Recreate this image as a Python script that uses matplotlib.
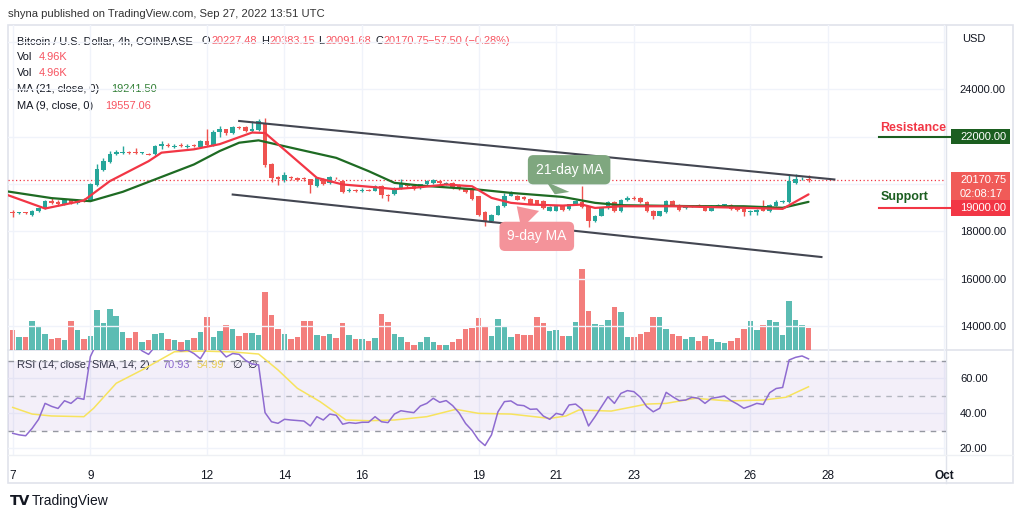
import numpy as np
import matplotlib
matplotlib.use('Agg')
import matplotlib.pyplot as plt
import matplotlib.transforms as mtransforms
from matplotlib.patches import Rectangle

plt.rcParams['font.family'] = ['Liberation Sans', 'DejaVu Sans']

# -- BTC/USD 4h candles, Sep 7 00:00 -> Sep 27 12:00 --
opens = [18820, 18760, 18790, 18700, 18840, 18985, 19270, 19245, 19130, 19310,
         19200, 19330, 19300, 19950, 20580, 20920, 21246, 21310, 21345, 21310,
         21290, 21260, 21246, 21600, 21660, 21560, 21660, 21560, 21600, 21555,
         21810, 21640, 22200, 22305, 22135, 22420, 22420, 22220, 22275, 22560,
         20850, 20310, 20145, 20290, 20260, 20230, 20190, 19905, 20190, 20020,
         20270, 20115, 19690, 19760, 19700, 19760, 19720, 19900, 19550, 19580,
         19805, 19960, 19900, 19830, 19975, 20045, 20115, 20000, 20045, 19950,
         19790, 19735, 19480, 18800, 18420, 18704, 19055, 19510, 19500, 19440,
         19370, 19300, 19270, 18870, 18870, 19050, 18930, 19140, 19230, 19055,
         18420, 18660, 18985, 19230, 18840, 19310, 19410, 19410, 19230, 18870,
         18660, 18800, 19270, 19127, 18990, 19050, 19127, 19085, 18870, 19060,
         19110, 19110, 19030, 18945, 18800, 18830, 19060, 18840, 19085, 19230,
         19230, 20045, 20187, 20227.48]
closes = [18780, 18790, 18760, 18840, 18985, 19270, 19200, 19130, 19340, 19200,
          19340, 19260, 19975, 20610, 20960, 21275, 21345, 21360, 21310, 21300,
          21300, 21240, 21600, 21670, 21580, 21620, 21600, 21620, 21590, 21810,
          21660, 22200, 22305, 22135, 22420, 22380, 22220, 22300, 22660, 20780,
          20260, 20190, 20355, 20230, 20180, 20190, 19945, 20230, 19990, 20290,
          20230, 19665, 19760, 19700, 19760, 19720, 19900, 19550, 19480, 19805,
          19975, 19900, 19800, 19975, 20115, 20160, 20020, 20040, 19835, 19790,
          19650, 19370, 18704, 18420, 18704, 19055, 19480, 19620, 19340, 19380,
          19170, 19170, 18985, 19010, 19050, 18890, 19140, 19270, 19010, 18420,
          18660, 18985, 19230, 18840, 19340, 19410, 19360, 19230, 18840, 18660,
          18840, 19270, 19085, 18900, 19060, 19070, 19060, 18870, 19060, 19127,
          19120, 18920, 18900, 18800, 18870, 18900, 18870, 19127, 19230, 19290,
          20115, 20187, 20227, 20170.75]
highs = [18900, 18830, 18830, 18880, 19030, 19300, 19420, 19300, 19380, 19360,
         19380, 19420, 20050, 20820, 21080, 21400, 21420, 21620, 21390, 21520,
         21340, 21290, 21640, 21810, 21720, 21680, 21720, 21680, 21700, 21870,
         22300, 22260, 22450, 22340, 22460, 22460, 22450, 22660, 22740, 22800,
         20900, 20350, 20500, 20340, 20310, 20300, 20220, 20290, 20230, 20340,
         20300, 20150, 19810, 19800, 19810, 19790, 19950, 19940, 19580, 19850,
         20190, 20000, 19960, 20010, 20160, 20200, 20150, 20080, 20080, 19980,
         19820, 19760, 19500, 18850, 18740, 19090, 19620, 19700, 19530, 19480,
         19400, 19330, 19300, 19050, 19080, 19090, 19170, 19340, 19930, 19080,
         18700, 19010, 19280, 19270, 19380, 19480, 19470, 19460, 19260, 18900,
         18870, 19300, 19300, 19150, 19090, 19110, 19160, 19110, 19090, 19160,
         19170, 19130, 19060, 18970, 18900, 18930, 19340, 19160, 19340, 19330,
         20400, 20400, 20300, 20383.15]
lows = [18600, 18720, 18720, 18660, 18800, 18960, 19150, 19080, 19100, 19150,
        19160, 19220, 19260, 19900, 20560, 20880, 21200, 21280, 21260, 21260,
        21250, 21200, 21220, 21460, 21550, 21520, 21560, 21520, 21550, 21530,
        21620, 21600, 21980, 22080, 22100, 22340, 22180, 22180, 22240, 20700,
        20100, 19940, 20100, 20180, 20130, 20140, 19620, 19860, 19950, 19990,
        20190, 19620, 19650, 19660, 19670, 19690, 19690, 19420, 19270, 19540,
        19780, 19860, 19760, 19800, 19950, 20010, 19990, 19970, 19800, 19760,
        19620, 19340, 18640, 18240, 18390, 18680, 19030, 19480, 19300, 19340,
        19140, 19140, 18950, 18840, 18840, 18860, 18900, 19110, 18980, 18195,
        18400, 18640, 18960, 18800, 18810, 19280, 19330, 19200, 18810, 18500,
        18630, 18770, 19050, 18870, 18960, 19020, 19030, 18840, 18840, 19030,
        19080, 18890, 18860, 18630, 18690, 18700, 18840, 18810, 19060, 19200,
        19200, 20000, 20150, 20091.68]
# volume, thousands of BTC
volumes = [4.57, 3.04, 2.90, 6.63, 5.26, 3.73, 2.45, 2.67, 2.22, 6.63,
           4.57, 2.45, 3.27, 9.08, 6.17, 9.30, 7.70, 4.18, 2.67, 4.18,
           1.76, 2.22, 3.73, 3.95, 2.45, 2.22, 1.76, 2.22, 2.67, 4.18,
           7.48, 3.04, 4.41, 5.72, 4.87, 3.27, 3.95, 3.95, 3.50, 13.19,
           7.93, 4.87, 3.73, 2.45, 2.90, 6.63, 6.63, 3.50, 3.27, 3.73,
           2.67, 6.17, 3.50, 2.45, 2.45, 1.99, 2.67, 8.16, 6.40, 3.73,
           2.90, 1.76, 1.14, 1.83, 2.97, 1.83, 1.14, 1.14, 1.83, 2.51,
           4.80, 5.03, 7.32, 5.49, 3.20, 7.09, 5.26, 2.97, 3.66, 3.43,
           3.43, 7.54, 6.17, 4.34, 4.57, 3.20, 3.20, 6.40, 18.52, 8.92,
           5.94, 5.72, 6.86, 9.83, 8.69, 2.97, 2.97, 3.66, 4.11, 7.54,
           7.54, 4.80, 3.66, 3.20, 2.51, 2.97, 2.06, 3.20, 2.51, 1.83,
           1.60, 2.06, 2.74, 4.80, 6.63, 4.57, 5.72, 6.86, 6.40, 3.43,
           11.20, 6.86, 5.72, 4.96]

# -- moving averages (sampled along the drawn lines) --
ma21_x = [-1, 6, 12, 17, 22, 28, 32, 35, 38, 43, 50, 55, 59, 63, 72, 77, 85, 90, 94, 98, 105, 113, 119, 123]
ma21 = [19690, 19400, 19270, 19665, 20190, 20820, 21390, 21740, 21840, 21530, 21100, 20540,
        20045, 19930, 19760, 19620, 19450, 19200, 19100, 19085, 19060, 19055, 18990, 19241.50]
ma9_x = [-1, 5, 11, 15, 21, 23, 28, 32, 37, 39, 47, 51, 56, 59, 63, 67, 71, 74, 77, 80,
         85, 88, 90, 94, 98, 103, 108, 113, 119, 123]
ma9 = [19550, 18960, 19300, 20115, 20960, 21320, 21460, 21680, 22170, 22150, 20260, 19975,
       19860, 19780, 19860, 19975, 19900, 19410, 19200, 19127, 19085, 19127, 18985, 19055,
       19055, 19055, 19020, 18990, 18945, 19557.06]

# -- RSI(14) per candle and its SMA --
rsi = [28.4, 27.5, 27.0, 31.2, 36.4, 45.5, 43.8, 42.6, 47.0, 45.5,
       48.6, 47.8, 72.2, 80.0, 84.0, 86.0, 84.0, 82.0, 80.0, 79.0,
       75.5, 73.5, 78.0, 79.0, 76.0, 76.5, 75.5, 76.0, 74.0, 71.0,
       77.0, 78.0, 76.0, 72.0, 74.0, 73.5, 70.0, 68.0, 67.5, 40.2,
       35.0, 34.1, 36.4, 36.0, 35.7, 35.4, 32.6, 37.9, 36.0, 39.4,
       38.7, 33.6, 34.5, 34.1, 34.7, 34.7, 37.9, 35.0, 34.5, 39.4,
       41.3, 40.7, 40.2, 44.0, 45.5, 48.4, 46.1, 47.1, 44.2, 40.0,
       34.0, 30.0, 24.6, 21.4, 27.5, 40.7, 46.5, 46.9, 44.6, 44.2,
       42.1, 42.3, 38.3, 36.4, 39.8, 38.9, 44.6, 45.1, 42.1, 32.6,
       37.9, 43.6, 49.3, 45.5, 51.2, 52.8, 52.2, 49.0, 43.6, 40.7,
       42.7, 51.8, 49.3, 47.1, 47.4, 49.0, 48.4, 45.5, 48.4, 49.0,
       49.7, 47.1, 45.1, 42.7, 44.0, 45.5, 44.9, 51.6, 54.0, 54.6,
       70.3, 71.8, 72.6, 70.93]
rsi_ma_x = [0, 3, 6, 11, 12.5, 16, 20, 25, 29, 34, 38, 41, 44, 47.5, 51.5, 55, 59, 64,
            68.5, 72, 77, 83, 85.5, 87.5, 92.5, 98, 101, 105.5, 110.5, 116, 119.5, 123]
rsi_ma = [43.2, 39.4, 38.3, 37.9, 42.7, 57.0, 64.6, 75.0, 75.4, 74.9, 73.7, 64.6, 54.1,
          46.5, 36.0, 35.6, 36.0, 37.9, 42.1, 39.8, 39.4, 36.9, 38.3, 41.7, 41.1, 45.1,
          45.5, 48.4, 46.9, 47.4, 49.0, 54.99]

# -- drawn channel --
upper_x = [35, 127]
upper_y = [22657, 20187]
lower_x = [34, 125]
lower_y = [19551, 16911]

day_ticks = [0, 12, 30, 42, 54, 72, 84, 96, 114, 126, 144]
day_labels = ['7', '9', '12', '14', '16', '19', '21', '23', '26', '28', 'Oct']

UP = '#26a69a'
DOWN = '#ef5350'
TXT = '#131722'
GRID = '#f0f3fa'

W, H = 1024, 518
fig = plt.figure(figsize=(W / 100, H / 100), dpi=100)
fig.patch.set_facecolor('white')

def fpos(x0, y0, x1, y1):
    return [x0 / W, 1 - y1 / H, (x1 - x0) / W, (y1 - y0) / H]

# background / frame in pixel coords
bg = fig.add_axes([0, 0, 1, 1], zorder=-10)
bg.set_xlim(0, W)
bg.set_ylim(H, 0)
bg.axis('off')
bg.add_patch(Rectangle((8, 25), 1005, 458, fill=False, ec='#e0e3eb', lw=1.2))
bg.plot([946, 946], [25, 483], color='#e0e3eb', lw=1)
bg.plot([8, 1013], [350, 350], color='#e0e3eb', lw=1.2)
bg.plot([8, 1013], [455, 455], color='#eef0f4', lw=1)

x = np.arange(len(closes))
xlim = (-0.73, 144.25)

ax = fig.add_axes(fpos(8, 25, 946, 350), zorder=2)
ax_vol = ax.twinx()
ax_vol.set_zorder(1)
ax.patch.set_visible(False)
ax_vol.patch.set_visible(False)

# volume
colors = [UP if c >= o else DOWN for o, c in zip(opens, closes)]
ax_vol.bar(x, volumes, width=0.85, color=colors, alpha=0.75, lw=0)
ax_vol.set_ylim(0, 74.3)
ax_vol.set_yticks([])
for s in ax_vol.spines.values():
    s.set_visible(False)

# grid
for t in day_ticks:
    ax.axvline(t, color=GRID, lw=1, zorder=0)
for p in range(14000, 27000, 2000):
    ax.axhline(p, color=GRID, lw=1, zorder=0)

# candles
o = np.array(opens); c = np.array(closes)
ax.vlines(x, lows, highs, colors=colors, lw=1, zorder=3)
body_lo = np.minimum(o, c)
body_h = np.maximum(np.abs(c - o), 40)
ax.bar(x, body_h, bottom=body_lo, width=0.7, color=colors, lw=0, zorder=4)

# moving averages
ax.plot(ma21_x, ma21, color='#1e6b23', lw=1.6, zorder=5, solid_capstyle='round')
ax.plot(ma9_x, ma9, color='#f23645', lw=1.6, zorder=6, solid_capstyle='round')

# channel
ax.plot(upper_x, upper_y, color='#434651', lw=1.5, zorder=7)
ax.plot(lower_x, lower_y, color='#434651', lw=1.5, zorder=7)

# last price line
ax.axhline(closes[-1], color='#f23645', lw=0.9, ls=(0, (1, 2)), zorder=2)

ax.set_xlim(*xlim)
ax.set_ylim(12984, 26712)
ax.yaxis.tick_right()
ax.set_yticks(range(14000, 27000, 2000))
ax.set_yticklabels(['14000.00', '16000.00', '18000.00', '', '', '24000.00', ''])
ax.tick_params(axis='y', length=0, pad=10, labelsize=8, labelcolor=TXT)
ax.tick_params(axis='x', length=0, labelbottom=False)
for s in ax.spines.values():
    s.set_visible(False)

# support / resistance
ax.plot([133.9, 144.9], [22000, 22000], color='#1b5e20', lw=1.5, clip_on=False, zorder=8)
ax.plot([133.9, 144.9], [19000, 19000], color='#f23645', lw=1.5, clip_on=False, zorder=8)
ax.text(134.1, 22000 + 380, 'Resistance', color='#f23645', fontsize=9, fontweight='bold',
        va='center', ha='left', zorder=8)
ax.text(134.1, 19000 + 430, 'Support', color='#1b5e20', fontsize=9, fontweight='bold',
        va='center', ha='left', zorder=8)

# price scale tags
blend = mtransforms.blended_transform_factory(ax.transAxes, ax.transData)
bx0 = (951 - 8) / 938
bw = 59 / 938
ppx = 42.37
ax.add_patch(Rectangle((bx0, 22000 - 7.5 * ppx), bw, 15 * ppx, transform=blend,
                       fc='#1b5e20', ec='none', clip_on=False, zorder=9))
ax.add_patch(Rectangle((bx0, 19225), bw, 30 * ppx, transform=blend,
                       fc='#f05b58', ec='none', clip_on=False, zorder=9))
ax.add_patch(Rectangle((bx0, 19000 - 8 * ppx), bw, 16 * ppx, transform=blend,
                       fc='#f23645', ec='none', clip_on=False, zorder=10))
tx = (960 - 8) / 938
ax.text(tx, 22000, '22000.00', transform=blend, color='white', fontsize=8, va='center', zorder=11)
ax.text(tx, 20170.75, '20170.75', transform=blend, color='white', fontsize=8, va='center', zorder=11)
ax.text(tx, 19572, '02:08:17', transform=blend, color='white', fontsize=8, va='center', zorder=11)
ax.text(tx, 19000, '19000.00', transform=blend, color='white', fontsize=8, va='center', zorder=11)

# call-outs
ax.annotate('21-day MA', xy=(83.6, 19454), xytext=(86.0, 20598), ha='center', va='center',
            color='white', fontsize=10, zorder=12,
            bbox=dict(boxstyle='round,pad=0.55,rounding_size=0.4', fc='#7fa77f', ec='none'),
            arrowprops=dict(arrowstyle='wedge,tail_width=1.8', fc='#7fa77f', ec='none',
                            relpos=(0.4, 0.0)))
ax.annotate('9-day MA', xy=(77.6, 19140), xytext=(81.0, 17784), ha='center', va='center',
            color='white', fontsize=10, zorder=12,
            bbox=dict(boxstyle='round,pad=0.55,rounding_size=0.4', fc='#f4939a', ec='none'),
            arrowprops=dict(arrowstyle='wedge,tail_width=1.8', fc='#f4939a', ec='none',
                            relpos=(0.55, 1.0)))

# -- RSI pane --
ar = fig.add_axes(fpos(8, 350, 946, 455), sharex=ax, zorder=2)
ar.patch.set_visible(False)
for t in day_ticks:
    ar.axvline(t, color=GRID, lw=1, zorder=0)
for r in (20, 40, 60):
    ar.axhline(r, color=GRID, lw=1, zorder=0)
ar.axhspan(30, 70, color='#7e57c2', alpha=0.09, lw=0, zorder=1)
ar.axhline(70, color='#9598a1', lw=1, ls=(0, (4, 4)), zorder=2)
ar.axhline(50, color='#b2b5be', lw=1, ls=(0, (4, 4)), zorder=2)
ar.axhline(30, color='#9598a1', lw=1, ls=(0, (4, 4)), zorder=2)
ar.plot(rsi_ma_x, rsi_ma, color='#f7e35d', lw=1.1, zorder=3)
ar.plot(x, rsi, color='#8e6bd0', lw=1.1, zorder=4)
ar.set_xlim(*xlim)
ar.set_ylim(16, 76)
ar.yaxis.tick_right()
ar.set_yticks([20, 40, 60])
ar.set_yticklabels(['20.00', '40.00', '60.00'])
ar.tick_params(axis='y', length=0, pad=10, labelsize=8, labelcolor=TXT)
ar.set_xticks(day_ticks)
ar.set_xticklabels(day_labels)
ar.tick_params(axis='x', length=0, pad=11, labelsize=8.5, labelcolor=TXT)
ar.get_xticklabels()[-1].set_fontweight('bold')
for s in ar.spines.values():
    s.set_visible(False)

# -- header / legend texts (pixel coords) --
def put(px, py, s, color=TXT, size=7.9, **kw):
    bg.text(px, py, s, color=color, fontsize=size, va='center', ha='left', **kw)

put(8, 14, 'shyna published on TradingView.com, Sep 27, 2022 13:51 UTC', color='#333333', size=8.1)
RED = '#f7525f'
put(17, 41, 'Bitcoin / U.S. Dollar, 4h, COINBASE')
put(202, 41, 'O'); put(211, 41, '20227.48', color=RED)
put(261, 41, 'H'); put(270, 41, '20383.15', color=RED)
put(318, 41, 'L'); put(325, 41, '20091.68', color=RED)
put(375, 41, 'C'); put(383, 41, '20170.75', color=RED)
put(428, 41, '\u221257.50 (\u22120.28%)', color=RED)
put(17, 57, 'Vol'); put(39, 57, '4.96K', color=RED)
put(17, 73, 'Vol'); put(39, 73, '4.96K', color=RED)
put(17, 89, 'MA (21, close, 0)'); put(111, 89, '19241.50', color='#2e7d32')
put(17, 106, 'MA (9, close, 0)'); put(105, 106, '19557.06', color=RED)
put(962, 39, 'USD', size=8)

put(17, 365, 'RSI (14, close, SMA, 14, 2)', color='#2a2e39')
put(162, 365, '70.93', color='#8e6bd0')
put(197, 365, '54.99', color='#f2d84a')
put(232, 365, '\u2205', color=TXT, family=['DejaVu Sans'])
put(247, 365, '\u2205', color=TXT, family=['DejaVu Sans'])

put(10, 501, 'TV', color='#131722', size=10, fontweight='heavy', family=['DejaVu Sans'])
put(32, 501, 'TradingView', color='#131722', size=10)

fig.savefig('out.png', dpi=100)
